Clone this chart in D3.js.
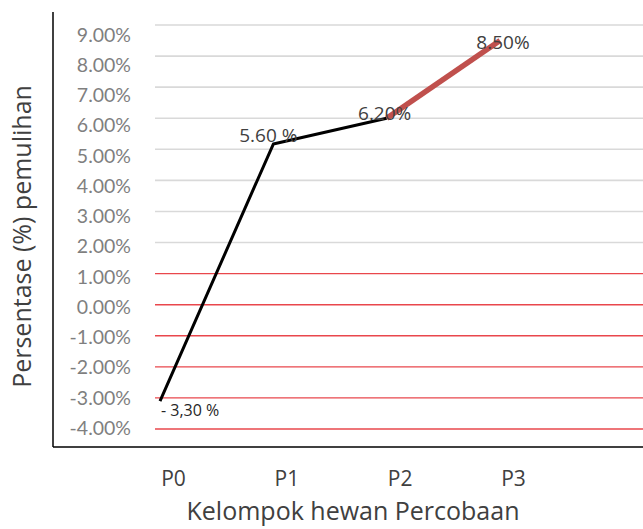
<!DOCTYPE html>
<html>
<head>
<meta charset="utf-8">
<script src="https://cdn.jsdelivr.net/npm/d3@7"></script>
<style>
  html, body { margin: 0; padding: 0; background: #fff; }
  svg { display: block; }
</style>
</head>
<body>
<svg id="chart" width="643" height="529"></svg>
<script>
// ---- data ----
const categories = ["P0", "P1", "P2", "P3"];
// values as drawn in the picture (percent)
const plotted = [-3.1, 5.17, 6.0, 8.5];
const pointLabels = ["- 3,30 %", "5.60 %", "6.20%", "8.50%"];
const tickValues = [9, 8, 7, 6, 5, 4, 3, 2, 1, 0, -1, -2, -3, -4];
const tickLabels = ["9.00%", "8.00%", "7.00%", "6.00%", "5.00%", "4.00%", "3.00%", "2.00%",
                    "1.00%", "0.00%", "-1.00%", "-2.00%", "-3.00%", "-4.00%"];
const yTitle = "Persentase (%) pemulihan";
const xTitle = "Kelompok hewan Percobaan";

// ---- layout ----
const W = 643, H = 529;
const svg = d3.select("#chart");

const y = d3.scaleLinear().domain([-4, 9]).range([429, 25]);
const yLab = d3.scaleLinear().domain([-4, 9]).range([428, 35]);
const x = d3.scalePoint().domain(categories).range([160, 500]);

// gridlines
svg.append("g").selectAll("line").data(tickValues).join("line")
  .attr("x1", 155).attr("x2", W)
  .attr("y1", d => y(d)).attr("y2", d => y(d))
  .attr("stroke", d => d <= 1 ? "#e9474c" : "#d9d9d9")
  .attr("stroke-width", d => d <= 1 ? 1.4 : 1.6);

// y tick labels
const yAxis = svg.append("g").attr("transform", "translate(131,0)")
  .call(d3.axisLeft(yLab).tickValues(tickValues)
    .tickFormat((d, i) => tickLabels[i]).tickSize(0).tickPadding(0));
yAxis.select(".domain").remove();
yAxis.selectAll("text")
  .attr("font-family", "Lato, sans-serif").attr("font-size", 19.5)
  .attr("fill", "#7f7f7f");

// axis lines
svg.append("line").attr("x1", 53).attr("x2", 53).attr("y1", 12).attr("y2", 447)
  .attr("stroke", "#000").attr("stroke-width", 1.5);
svg.append("line").attr("x1", 53).attr("x2", W).attr("y1", 447).attr("y2", 447)
  .attr("stroke", "#000").attr("stroke-width", 1.5);

// x category labels
const xAxis = svg.append("g").attr("transform", "translate(13,471)")
  .call(d3.axisBottom(x).tickSize(0).tickPadding(0));
xAxis.select(".domain").remove();
xAxis.selectAll("text")
  .attr("font-family", "'Open Sans', sans-serif").attr("font-size", 21)
  .attr("fill", "#404040");

// lines
const pts = categories.map((c, i) => ({ c, v: plotted[i], label: pointLabels[i] }));
const line = d3.line().x(d => x(d.c)).y(d => y(d.v));
svg.append("path").datum(pts.slice(0, 3))
  .attr("d", line).attr("fill", "none")
  .attr("stroke", "#000").attr("stroke-width", 3).attr("stroke-linejoin", "round");
svg.append("path").datum(pts.slice(2, 4))
  .attr("d", line).attr("fill", "none")
  .attr("stroke", "#c0504d").attr("stroke-width", 5.5);

// data labels
const labelStyle = [
  { anchor: "start", dx: 1, dy: 15, size: 16, fill: "#262626" },
  { anchor: "middle", dx: -5, dy: -2, size: 19, fill: "#404040" },
  { anchor: "middle", dx: -2, dy: 2, size: 19, fill: "#404040" },
  { anchor: "middle", dx: 3, dy: 8, size: 19, fill: "#404040" }
];
svg.append("g").selectAll("text").data(pts).join("text")
  .attr("x", (d, i) => x(d.c) + labelStyle[i].dx)
  .attr("y", (d, i) => y(d.v) + labelStyle[i].dy)
  .attr("text-anchor", (d, i) => labelStyle[i].anchor)
  .attr("font-family", "'Open Sans', sans-serif")
  .attr("font-size", (d, i) => labelStyle[i].size)
  .attr("fill", (d, i) => labelStyle[i].fill)
  .text(d => d.label);

// titles
svg.append("text")
  .attr("transform", "translate(31,236.5) rotate(-90)")
  .attr("text-anchor", "middle")
  .attr("font-family", "'Open Sans', sans-serif").attr("font-size", 25)
  .attr("fill", "#404040").text(yTitle);
svg.append("text")
  .attr("x", 353).attr("y", 520).attr("text-anchor", "middle")
  .attr("font-family", "'Open Sans', sans-serif").attr("font-size", 25)
  .attr("fill", "#404040").text(xTitle);
</script>
</body>
</html>
